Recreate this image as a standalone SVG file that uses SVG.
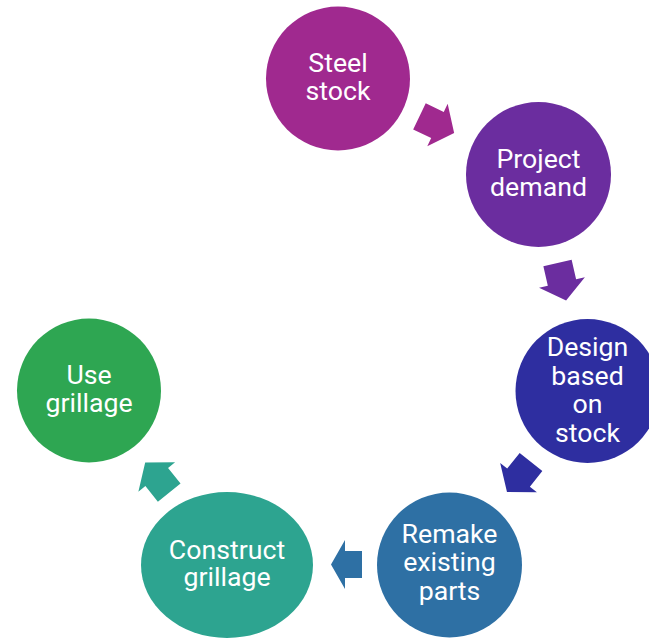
<svg xmlns="http://www.w3.org/2000/svg" width="649" height="638" viewBox="0 0 649 638">
<style>
.lbl{font-family:Roboto,"Liberation Sans",sans-serif;font-size:26.7px;fill:#ffffff;text-anchor:middle}
</style>
<defs>
<path id="arr" d="M-19.25,-14.5 L0.75,-14.5 L0.75,-23.5 L19.25,0 L0.75,23.5 L0.75,14.5 L-19.25,14.5 Z"/>
</defs>
<rect width="649" height="638" fill="#ffffff"/>
<g id="connectors">
<use href="#arr" transform="translate(436.8,124.7) rotate(25.7)" fill="#A0298F"/>
<use href="#arr" transform="translate(561.8,281.8) rotate(77.1)" fill="#6B2D9F"/>
<use href="#arr" transform="translate(519,477) rotate(128.6)" fill="#2E2EA0"/>
<polygon points="362,551 345,551 345,540 331,564.5 345,589 345,578 362,578" fill="#2E70A4"/>
<use href="#arr" transform="translate(157.2,477.6) rotate(231.4)" fill="#2DA490"/>
</g>
<g id="steel-stock">
<circle cx="338" cy="78.5" r="72" fill="#A0298F"/>
<text class="lbl" x="338" y="72">Steel</text>
<text class="lbl" x="338" y="100">stock</text>
</g>
<g id="project-demand">
<circle cx="538.5" cy="174.5" r="72.5" fill="#6B2D9F"/>
<text class="lbl" x="538.5" y="168">Project</text>
<text class="lbl" x="538.5" y="196">demand</text>
</g>
<g id="design-based-on-stock">
<circle cx="587.5" cy="391" r="72" fill="#2E2EA0"/>
<text class="lbl" x="587.5" y="356">Design</text>
<text class="lbl" x="587.5" y="384.5">based</text>
<text class="lbl" x="587.5" y="413">on</text>
<text class="lbl" x="587.5" y="441.5">stock</text>
</g>
<g id="remake-existing-parts">
<circle cx="449.5" cy="565" r="72.5" fill="#2E70A4"/>
<text class="lbl" x="449.5" y="542.5">Remake</text>
<text class="lbl" x="449.5" y="571">existing</text>
<text class="lbl" x="449.5" y="599.5">parts</text>
</g>
<g id="construct-grillage">
<ellipse cx="227" cy="565" rx="86" ry="73" fill="#2DA490"/>
<text class="lbl" x="227" y="558.5">Construct</text>
<text class="lbl" x="227" y="586">grillage</text>
</g>
<g id="use-grillage">
<circle cx="89" cy="390.5" r="72" fill="#2EA652"/>
<text class="lbl" x="89" y="384">Use</text>
<text class="lbl" x="89" y="412">grillage</text>
</g>
</svg>
